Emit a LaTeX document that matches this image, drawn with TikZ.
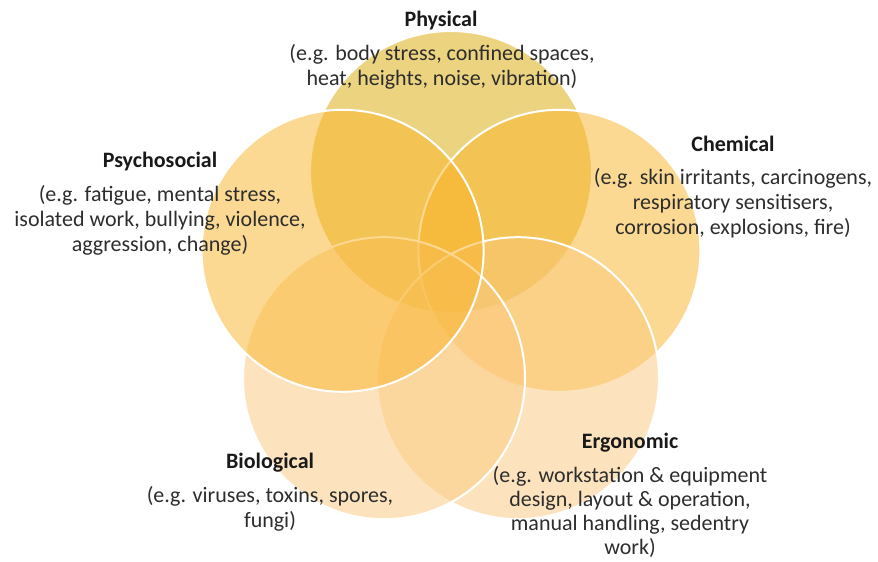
\documentclass[tikz,border=0pt]{standalone}
\usepackage{fontspec}
\setmainfont{Carlito}
\definecolor{physc}{RGB}{218,168,0}
\definecolor{chemc}{RGB}{250,180,40}
\definecolor{psyc}{RGB}{250,180,40}
\definecolor{bioc}{RGB}{250,200,125}
\definecolor{ergc}{RGB}{250,200,125}
\definecolor{titlec}{RGB}{25,25,25}
\definecolor{bodyc}{RGB}{45,45,45}
\begin{document}
\begin{tikzpicture}[x=1pt,y=-1pt,
  hazard/.style={draw=white,line width=2pt,fill opacity=0.5},
  label/.style={align=center,font=\fontsize{22}{25.2}\selectfont,text=bodyc,inner sep=0pt},
  ttl/.style={font=\fontsize{22}{25}\selectfont\bfseries,text=titlec,inner sep=0pt}]
\useasboundingbox (0,0) rectangle (878,562);
\coordinate (O) at (451,286);
\path (O) ++(0,-114) coordinate (cphys);
\path (O) ++(108.4,-35.2) coordinate (cchem);
\path (O) ++(-108.4,-35.2) coordinate (cpsy);
\path (O) ++(-67,92.2) coordinate (cbio);
\path (O) ++(67,92.2) coordinate (cerg);
\fill[physc,hazard] (cphys) circle[radius=141];
\fill[chemc,hazard] (cchem) circle[radius=141];
\fill[ergc,hazard] (cerg) circle[radius=141];
\fill[bioc,hazard] (cbio) circle[radius=141];
\fill[psyc,hazard] (cpsy) circle[radius=141];
% titles
\node[ttl] (tphys) at (441,21) {Physical};
\node[ttl] (tchem) at (733,144) {Chemical};
\node[ttl] (tpsy) at (160,162) {Psychosocial};
\node[ttl] (tbio) at (270,463) {Biological};
\node[ttl] (terg) at (630,443) {Ergonomic};
% bodies
\node[label,anchor=north] (bphys) at (442,44) {(e.g. body stress, confined spaces,\\heat, heights, noise, vibration)};
\node[label,anchor=north] (bchem) at (733,168) {(e.g. skin irritants, carcinogens,\\respiratory sensitisers,\\corrosion, explosions, fire)};
\node[label,anchor=north] (bpsy) at (160,185) {(e.g. fatigue, mental stress,\\isolated work, bullying, violence,\\aggression, change)};
\node[label,anchor=north] (bbio) at (270,486) {(e.g. viruses, toxins, spores,\\fungi)};
\node[label,anchor=north,font=\fontsize{22}{24.2}\selectfont] (berg) at (630,466) {(e.g. workstation \& equipment\\design, layout \& operation,\\manual handling, sedentry\\work)};
\end{tikzpicture}
\end{document}
